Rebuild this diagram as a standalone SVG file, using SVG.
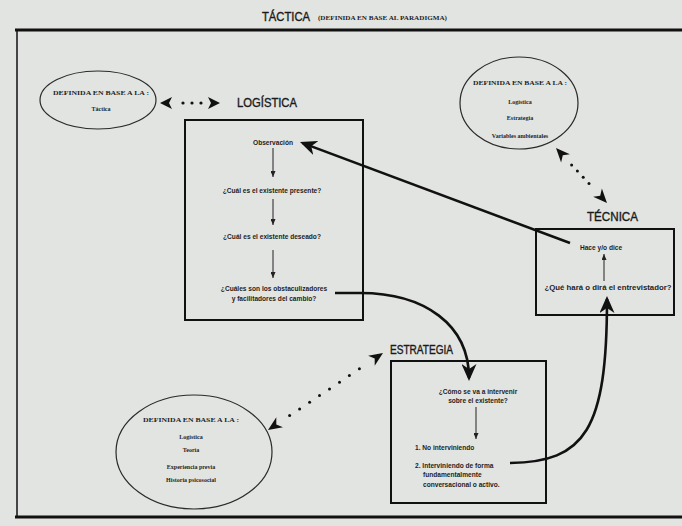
<svg xmlns="http://www.w3.org/2000/svg" width="682" height="526" viewBox="0 0 682 526">
<defs>
<style>
.bg{fill:#e2e4e1}
.frame{stroke:#111;fill:none}
.box{fill:none;stroke:#111;stroke-width:2}
.ell{fill:none;stroke:#2a2a2a;stroke-width:1.2}
.hd{font-family:"Liberation Sans",Arial,sans-serif;font-size:12px;fill:#1a1a1a;stroke:#1a1a1a;stroke-width:0.35}
.st{font-family:"Liberation Sans",Arial,sans-serif;font-size:6.6px;font-weight:bold;fill:#1e1e1e}
.sr{font-family:"Liberation Serif","Times New Roman",serif;font-size:6px;font-weight:bold;fill:#1e1e1e}
.big{fill:none;stroke:#111;stroke-width:2.6;marker-end:url(#bigHead)}
.thin{fill:none;stroke:#222;stroke-width:1;marker-end:url(#smallHead)}
.dot{fill:#111}
.head{fill:#111}
</style>
<marker id="bigHead" viewBox="0 0 17 15" refX="14" refY="7.5" markerWidth="17" markerHeight="15" markerUnits="userSpaceOnUse" orient="auto">
<path d="M0,0 L17,7.5 L0,15 L5,7.5 z" fill="#111"/>
</marker>
<marker id="smallHead" viewBox="0 0 6 5" refX="6" refY="2.5" markerWidth="6" markerHeight="5" markerUnits="userSpaceOnUse" orient="auto">
<path d="M0,0 L6,2.5 L0,5 z" fill="#222"/>
</marker>
</defs>
<rect class="bg" x="0" y="0" width="682" height="526"/>

<g id="title">
<text class="hd" x="262" y="21" textLength="48" lengthAdjust="spacingAndGlyphs">TÁCTICA</text>
<text class="sr" x="318" y="20" textLength="129" lengthAdjust="spacingAndGlyphs">(DEFINIDA EN BASE AL PARADIGMA)</text>
</g>

<g id="frame">
<line class="frame" x1="15" y1="30" x2="682" y2="30" stroke-width="3"/>
<line class="frame" x1="17" y1="30" x2="17" y2="517" stroke-width="1.5"/>
<line class="frame" x1="15" y1="517" x2="682" y2="517" stroke-width="3"/>
</g>

<g id="ellipse-tactica">
<ellipse class="ell" cx="98" cy="100" rx="58" ry="29"/>
<text class="sr" x="101" y="95" text-anchor="middle" textLength="96" lengthAdjust="spacingAndGlyphs">DEFINIDA EN BASE A LA :</text>
<text class="sr" x="101" y="111" text-anchor="middle">Táctica</text>
</g>

<g id="logistica">
<text class="hd" x="237" y="107" textLength="60" lengthAdjust="spacingAndGlyphs">LOGÍSTICA</text>
<rect class="box" x="185" y="120" width="178" height="200"/>
<text class="st" x="273" y="144.5" text-anchor="middle">Observación</text>
<text class="st" x="272" y="192.5" text-anchor="middle">¿Cuál es el existente presente?</text>
<text class="st" x="272" y="238.5" text-anchor="middle">¿Cuál es el existente deseado?</text>
<text class="st" x="274" y="291" text-anchor="middle">¿Cuáles son los obstaculizadores</text>
<text class="st" x="274" y="301" text-anchor="middle">y facilitadores del cambio?</text>
<line class="thin" x1="273" y1="148" x2="273" y2="177"/>
<line class="thin" x1="273" y1="199" x2="273" y2="225"/>
<line class="thin" x1="273" y1="250" x2="273" y2="278"/>
</g>

<g id="ellipse-tecnica-def">
<ellipse class="ell" cx="519" cy="103" rx="59" ry="46"/>
<text class="sr" x="520" y="85" text-anchor="middle" textLength="94" lengthAdjust="spacingAndGlyphs">DEFINIDA EN BASE A LA :</text>
<text class="sr" x="520" y="104" text-anchor="middle">Logística</text>
<text class="sr" x="520" y="120" text-anchor="middle">Estrategia</text>
<text class="sr" x="520" y="138" text-anchor="middle">Variables ambientales</text>
</g>

<g id="tecnica">
<text class="hd" x="587" y="221" textLength="51" lengthAdjust="spacingAndGlyphs">TÉCNICA</text>
<rect class="box" x="536" y="229" width="138" height="86"/>
<text class="st" x="601" y="249.5" text-anchor="middle">Hace y/o dice</text>
<text class="st" x="608" y="290" text-anchor="middle" textLength="127" lengthAdjust="spacingAndGlyphs">¿Qué hará o dirá el entrevistador?</text>
<line class="thin" x1="604" y1="281" x2="604" y2="254"/>
</g>

<g id="estrategia">
<text class="hd" x="390" y="354" textLength="63" lengthAdjust="spacingAndGlyphs">ESTRATEGIA</text>
<rect class="box" x="391" y="361" width="155" height="142"/>
<text class="st" x="478" y="393.5" text-anchor="middle">¿Cómo se va a intervenir</text>
<text class="st" x="478" y="403" text-anchor="middle">sobre el existente?</text>
<line class="thin" x1="476" y1="407" x2="476" y2="439"/>
<text class="st" x="415" y="449.5">1. No interviniendo</text>
<text class="st" x="415" y="467.5">2. Interviniendo de forma</text>
<text class="st" x="423" y="477">fundamentalmente</text>
<text class="st" x="423" y="486.5">conversacional o activo.</text>
</g>

<g id="ellipse-estrategia-def">
<ellipse class="ell" cx="194" cy="452" rx="78" ry="57"/>
<text class="sr" x="191" y="422" text-anchor="middle" textLength="96" lengthAdjust="spacingAndGlyphs">DEFINIDA EN BASE A LA :</text>
<text class="sr" x="191" y="439" text-anchor="middle">Logística</text>
<text class="sr" x="191" y="452" text-anchor="middle">Teoría</text>
<text class="sr" x="191" y="469" text-anchor="middle">Experiencia previa</text>
<text class="sr" x="191" y="482" text-anchor="middle">Historia psicosocial</text>
</g>

<g id="connectors">
<path class="big" d="M570,243 L302.8,143.1"/>
<path class="big" d="M335,293 L360,293 C425,293 469,325 469,378"/>
<path class="big" d="M510,463 C585,462 607,430 607,299"/>

<polygon class="head" points="160,103 172,97 169,103 172,109"/>
<polygon class="head" points="220,103 208,97 211,103 208,109"/>
<circle class="dot" cx="183" cy="103" r="1.6"/>
<circle class="dot" cx="192" cy="103" r="1.6"/>
<circle class="dot" cx="201" cy="103" r="1.6"/>

<polygon class="head" points="556,148 569.9,154.2 562.8,155.3 561.1,162.4"/>
<polygon class="head" points="607,203 593.1,196.8 600.2,195.7 601.9,188.6"/>
<circle class="dot" cx="571.6" cy="164.9" r="1.5"/>
<circle class="dot" cx="577.4" cy="171.1" r="1.5"/>
<circle class="dot" cx="583.2" cy="177.3" r="1.5"/>
<circle class="dot" cx="589" cy="183.6" r="1.5"/>

<polygon class="head" points="268,430 283,427.2 276.3,424.4 276.3,417.2"/>
<polygon class="head" points="383,353 368.1,355.8 374.7,358.6 374.7,365.8"/>
<circle class="dot" cx="289.6" cy="415.5" r="1.5"/>
<circle class="dot" cx="299.6" cy="408.9" r="1.5"/>
<circle class="dot" cx="309.6" cy="402.2" r="1.5"/>
<circle class="dot" cx="319.5" cy="395.5" r="1.5"/>
<circle class="dot" cx="329.5" cy="388.9" r="1.5"/>
<circle class="dot" cx="339.5" cy="382.2" r="1.5"/>
<circle class="dot" cx="349.4" cy="375.5" r="1.5"/>
<circle class="dot" cx="359.4" cy="368.8" r="1.5"/>
</g>
</svg>
